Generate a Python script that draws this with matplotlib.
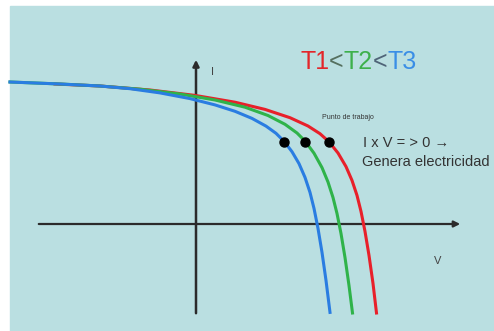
import matplotlib
matplotlib.use("Agg")
import matplotlib.pyplot as plt
from matplotlib.patches import Rectangle

# curvas I-V (V, I) en unidades arbitrarias
v_t3 = [-1.86, -1.36, -0.96, -0.66, -0.36, -0.06, 0.19, 0.39, 0.56, 0.70, 0.80, 0.88,
        0.96, 1.03, 1.09, 1.14, 1.18, 1.22, 1.26, 1.30, 1.34]
i_t3 = [1.42, 1.40, 1.38, 1.353, 1.311, 1.254, 1.191, 1.127, 1.056, 0.979, 0.907, 0.827,
        0.723, 0.604, 0.466, 0.316, 0.156, -0.044, -0.284, -0.564, -0.884]

v_t2 = [-1.86, -1.36, -0.96, -0.56, -0.16, 0.19, 0.49, 0.72, 0.89, 1.01, 1.09, 1.18,
        1.26, 1.32, 1.37, 1.41, 1.45, 1.49, 1.53, 1.565]
i_t2 = [1.42, 1.40, 1.38, 1.348, 1.30, 1.24, 1.168, 1.085, 0.997, 0.91, 0.83, 0.708,
        0.564, 0.42, 0.265, 0.105, -0.095, -0.335, -0.615, -0.89]

v_t1 = [-1.41, -0.96, -0.46, -0.01, 0.39, 0.69, 0.94, 1.12, 1.24, 1.33, 1.42, 1.50,
        1.56, 1.61, 1.65, 1.69, 1.73, 1.77, 1.805]
i_t1 = [1.40, 1.38, 1.34, 1.286, 1.218, 1.146, 1.063, 0.98, 0.903, 0.822, 0.71, 0.574,
        0.436, 0.286, 0.126, -0.074, -0.314, -0.594, -0.89]

# puntos de trabajo
v_pt = [0.875, 1.09, 1.33]
i_pt = [0.825, 0.825, 0.825]

title_parts = ["T1", "<", "T2", "<", "T3"]
title_colors = ["#e3262a", "#55705f", "#3db04b", "#4f6478", "#3a8ee6"]

bg = "#badfe1"
red, green, blue = "#e8202a", "#2fb34a", "#2a7de1"
dark = "#2b2b2b"

plt.rcParams['font.family'] = ['Liberation Sans', 'DejaVu Sans']

fig = plt.figure(figsize=(4.94, 3.31), dpi=100)
fig.patches.append(Rectangle((10 / 494, 0), 484 / 494, 1 - 6 / 331,
                             transform=fig.transFigure, color=bg, zorder=-1))
ax = fig.add_axes([0, 0, 1, 1])
ax.set_xlim(-1.96, 2.98)
ax.set_ylim(-1.07, 2.24)
ax.axis('off')

# ejes con flecha
ax.annotate('', xy=(0, 1.67), xytext=(0, -0.92),
            arrowprops=dict(arrowstyle='-|>', lw=1.8, color=dark, mutation_scale=9))
ax.annotate('', xy=(2.67, 0), xytext=(-1.60, 0),
            arrowprops=dict(arrowstyle='-|>', lw=1.6, color=dark, mutation_scale=9))
ax.text(0.16, 1.52, "I", fontsize=8, color="#444", ha='center', va='center')
ax.text(2.42, -0.37, "V", fontsize=8, color="#444", ha='center', va='center')

ax.plot(v_t1, i_t1, color=red, lw=2.2, solid_joinstyle='round', zorder=3)
ax.plot(v_t2, i_t2, color=green, lw=2.2, solid_joinstyle='round', zorder=4)
ax.plot(v_t3, i_t3, color=blue, lw=2.2, solid_joinstyle='round', zorder=5)
ax.plot(v_pt, i_pt, 'o', color='black', markersize=6.5, zorder=6)

ax.text(1.26, 1.07, "Punto de trabajo", fontsize=5, color="#333", va='center')
ax.text(1.67, 0.81, "I x V = > 0 \u2192", fontsize=10.5, color="#333", va='center')
ax.text(1.66, 0.62, "Genera electricidad", fontsize=10.5, color="#333", va='center')

# titulo por piezas de colores
prev = ax.text(1.04, 1.62, title_parts[0], fontsize=18, color=title_colors[0], va='center')
for s, c in zip(title_parts[1:], title_colors[1:]):
    prev = ax.annotate(s, xy=(1, 0), xycoords=prev, fontsize=18, color=c,
                       ha='left', va='bottom')

fig.savefig("out.png", dpi=100)
